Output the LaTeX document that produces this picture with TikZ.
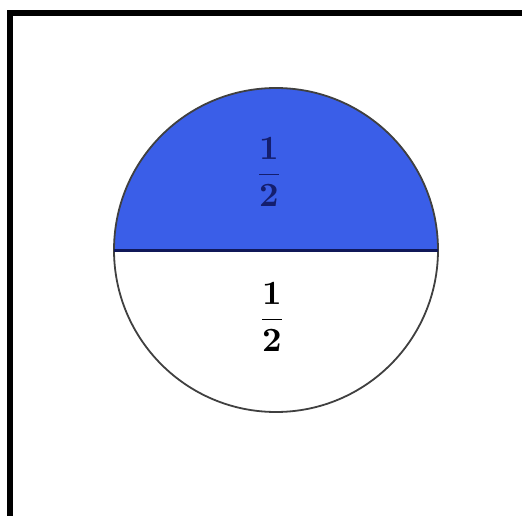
\documentclass[tikz,border=0pt]{standalone}
\definecolor{halfblue}{RGB}{58,94,232}
\definecolor{navy}{RGB}{20,30,110}
\newcommand{\halffrac}{\scalebox{3.4}{$\displaystyle\frac{\mathbf{1}}{\mathbf{2}}$}}
\tikzset{
  frac/.style={inner sep=0pt},
}
\begin{document}
\begin{tikzpicture}[x=1pt,y=-1pt]
\useasboundingbox (0,0) rectangle (522,516);
\fill[white] (0,0) rectangle (522,516);
% frame (top and left only)
\draw[line width=6pt] (10,516) -- (10,13) -- (522,13);
% circle
\coordinate (c) at (276,250);
\fill[halfblue] (114,250) arc[start angle=180,end angle=360,radius=162] -- cycle;
\draw[line width=1.8pt, black!75] (c) circle[radius=162];
\draw[line width=3pt, navy!80!black] (114,250) -- (438,250);
\node[frac, text=navy] (top) at (269,172) {\halffrac};
\node[frac] (bot) at (272,317) {\halffrac};
\end{tikzpicture}
\end{document}
